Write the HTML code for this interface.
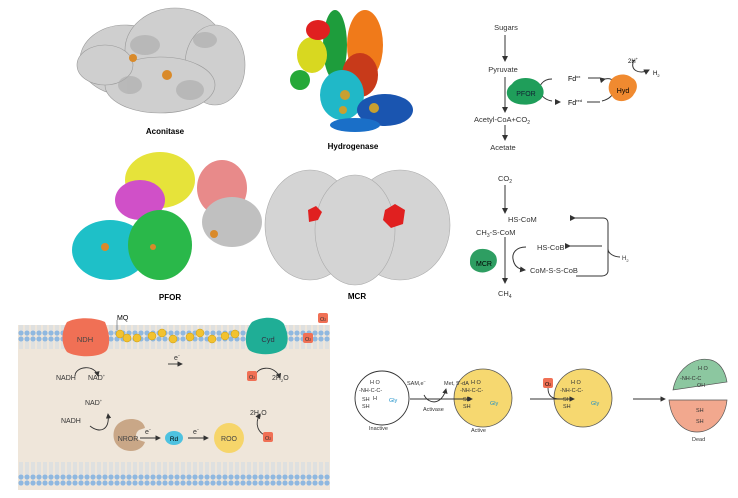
<!DOCTYPE html><html><head><style>body{margin:0;background:#fff}svg{display:block;font-family:"Liberation Sans",sans-serif}</style></head><body>
<svg width="738" height="498" viewBox="0 0 738 498">
<defs>
<marker id="a" markerWidth="6" markerHeight="6" refX="5" refY="3" orient="auto"><path d="M0,0L6,3L0,6z" fill="#333"/></marker>
<pattern id="lip" width="6" height="24" patternUnits="userSpaceOnUse"><circle cx="3" cy="3" r="2.6" fill="#8fb8e0"/><circle cx="3" cy="21" r="2.6" fill="#8fb8e0"/><line x1="2" y1="5" x2="2" y2="19" stroke="#c4d6ea" stroke-width="0.8"/><line x1="4" y1="5" x2="4" y2="19" stroke="#c4d6ea" stroke-width="0.8"/></pattern>
</defs>
<!-- Aconitase -->
<g fill="#cfcfcf" stroke="#999" stroke-width="0.6">
<ellipse cx="125" cy="60" rx="45" ry="35"/><ellipse cx="175" cy="50" rx="50" ry="42"/><ellipse cx="215" cy="65" rx="30" ry="40"/><ellipse cx="160" cy="85" rx="55" ry="28"/><ellipse cx="105" cy="65" rx="28" ry="20"/>
</g>
<g fill="#aaa" opacity=".6"><ellipse cx="145" cy="45" rx="15" ry="10"/><ellipse cx="190" cy="90" rx="14" ry="10"/><ellipse cx="205" cy="40" rx="12" ry="8"/><ellipse cx="130" cy="85" rx="12" ry="9"/></g>
<circle cx="133" cy="58" r="4" fill="#d98a2a"/><circle cx="167" cy="75" r="5" fill="#d98a2a"/>
<text x="165" y="134" font-size="8" font-weight="bold" text-anchor="middle">Aconitase</text>
<!-- Hydrogenase -->
<ellipse cx="335" cy="45" rx="12" ry="35" fill="#1e9d3c"/><ellipse cx="365" cy="45" rx="18" ry="35" fill="#f07a1a"/><ellipse cx="312" cy="55" rx="15" ry="18" fill="#d8d820"/><ellipse cx="318" cy="30" rx="12" ry="10" fill="#e02020"/><ellipse cx="360" cy="75" rx="18" ry="22" fill="#c83a1a"/><ellipse cx="342" cy="95" rx="22" ry="25" fill="#20b8c8"/><ellipse cx="300" cy="80" rx="10" ry="10" fill="#25a838"/><ellipse cx="385" cy="110" rx="28" ry="16" fill="#1a55b0"/><ellipse cx="355" cy="125" rx="25" ry="7" fill="#1a6fc8"/>
<circle cx="345" cy="95" r="5" fill="#c8a030"/><circle cx="374" cy="108" r="5" fill="#c8a030"/><circle cx="343" cy="110" r="4" fill="#c8a030"/>
<text x="353" y="149" font-size="8" font-weight="bold" text-anchor="middle">Hydrogenase</text>
<!-- PFOR -->
<ellipse cx="160" cy="180" rx="35" ry="28" fill="#e6e33a"/><ellipse cx="140" cy="200" rx="25" ry="20" fill="#d050c8"/><ellipse cx="222" cy="188" rx="25" ry="28" fill="#e88a8a"/><ellipse cx="232" cy="222" rx="30" ry="25" fill="#c0c0c0"/><ellipse cx="110" cy="250" rx="38" ry="30" fill="#1ec0c8"/><ellipse cx="160" cy="245" rx="32" ry="35" fill="#2ab84a"/>
<circle cx="105" cy="247" r="4" fill="#d98a2a"/><circle cx="153" cy="247" r="3" fill="#d98a2a"/><circle cx="214" cy="234" r="4" fill="#d98a2a"/>
<text x="170" y="300" font-size="8" font-weight="bold" text-anchor="middle">PFOR</text>
<!-- MCR -->
<g fill="#d4d4d4" stroke="#aaa" stroke-width="0.6"><ellipse cx="310" cy="225" rx="45" ry="55"/><ellipse cx="400" cy="225" rx="50" ry="55"/><ellipse cx="355" cy="230" rx="40" ry="55"/></g>
<path d="M308 210l8-4 6 6-4 8-9 2z" fill="#e02020"/><path d="M385 210l10-6 10 6-2 14-12 4-8-8z" fill="#e02020"/>
<text x="357" y="299" font-size="8" font-weight="bold" text-anchor="middle">MCR</text>
<!-- Pathway 1 -->
<g font-size="7.5" fill="#333" text-anchor="middle">
<text x="506" y="30">Sugars</text>
<text x="503" y="72">Pyruvate</text>
<text x="502" y="122">Acetyl-CoA+CO<tspan font-size="5" dy="2">2</tspan></text>
<text x="503" y="150">Acetate</text>
</g>
<g stroke="#333" stroke-width="1" fill="none">
<line x1="505" y1="35" x2="505" y2="61" marker-end="url(#a)"/>
<line x1="505" y1="77" x2="505" y2="112" marker-end="url(#a)"/>
<line x1="505" y1="125" x2="505" y2="140" marker-end="url(#a)"/>
<path d="M552 79c-10,0-14,8-12,13c2,5,6,8,12,9" />
<line x1="555" y1="102" x2="560" y2="102" marker-end="url(#a)"/>
<line x1="588" y1="78" x2="600" y2="78"/>
<path d="M605 79c8,-2 12,5 10,10c-2,6-5,10-13,12" marker-start="url(#a)"/>
<line x1="587" y1="102" x2="600" y2="102"/>
<path d="M634 60c-5,10 5,15 15,10" marker-end="url(#a)"/>
</g>
<path d="M512 84c5-8 22-8 28,0c6,6 4,14-2,17c-6,5-22,5-28-1c-5-5-4-12 2-16z" fill="#1f9e5a"/>
<text x="526" y="96" font-size="7" text-anchor="middle" fill="#123">PFOR</text>
<text x="568" y="81" font-size="7">Fd<tspan font-size="4" dy="-3">ox</tspan></text>
<text x="568" y="105" font-size="7">Fd<tspan font-size="4" dy="-3">red</tspan></text>
<path d="M610 82c3-8 16-10 22-4c5,2 7,10 2,16c-4,8-18,10-22,2c-4-4-4-10-2-14z" fill="#f08a30"/>
<text x="623" y="93" font-size="7" text-anchor="middle">Hyd</text>
<text x="628" y="63" font-size="6">2H<tspan font-size="4" dy="-3">+</tspan></text>
<text x="653" y="75" font-size="6">H<tspan font-size="4" dy="2">2</tspan></text>
<!-- Pathway 2 -->
<g font-size="7.5" fill="#333">
<text x="498" y="181">CO<tspan font-size="5" dy="2">2</tspan></text>
<text x="508" y="222">HS-CoM</text>
<text x="476" y="235">CH<tspan font-size="5" dy="2">3</tspan><tspan dy="-2">-S-CoM</tspan></text>
<text x="537" y="250">HS-CoB</text>
<text x="530" y="273">CoM-S-S-CoB</text>
<text x="622" y="260" font-size="6">H<tspan font-size="4" dy="2">2</tspan></text>
<text x="498" y="296">CH<tspan font-size="5" dy="2">4</tspan></text>
</g>
<g stroke="#333" stroke-width="1" fill="none">
<line x1="505" y1="185" x2="505" y2="213" marker-end="url(#a)"/>
<line x1="505" y1="237" x2="505" y2="283" marker-end="url(#a)"/>
<path d="M575 218h28c4,0 5,3 5,5v48c0,3-3,5-6,5h-26" marker-start="url(#a)"/>
<path d="M570 246h32" marker-start="url(#a)"/>
<path d="M620 257c-5,0-12-3-12-8"/>
<path d="M526 247c-10,0-14,6-13,12c1,6,4,10,12,11" marker-end="url(#a)"/>
</g>
<path d="M472 254c5-8 20-6 24,2c3,8-2,14-10,16c-8,2-16-3-16-9c0-4 0-6 2-9z" fill="#2e9e62"/>
<text x="484" y="266" font-size="7" text-anchor="middle">MCR</text>
<!-- bottom left panel -->
<rect x="18" y="325" width="312" height="165" fill="#efe6da"/>
<rect x="18" y="325" width="312" height="24" fill="url(#lip)"/>
<rect x="18" y="462" width="312" height="24" fill="url(#lip)"/>
<g fill="#f2c230" stroke="#c89a10" stroke-width="0.5">
<circle cx="120" cy="334" r="4"/><circle cx="127" cy="338" r="4"/><circle cx="137" cy="338" r="4"/><circle cx="152" cy="336" r="4"/><circle cx="162" cy="333" r="4"/><circle cx="173" cy="339" r="4"/><circle cx="190" cy="337" r="4"/><circle cx="200" cy="333" r="4"/><circle cx="212" cy="339" r="4"/><circle cx="225" cy="336" r="4"/><circle cx="235" cy="334" r="4"/>
</g>
<path d="M67 322c12-6 30-4 38,0c4,10 6,20 2,28c-6,8-30,8-40,2c-6-8-6-20 0-30z" fill="#f07055"/>
<text x="85" y="342" font-size="7.5" text-anchor="middle" fill="#444">NDH</text>
<path d="M252 322c10-6 26-6 32,2c3,8 6,16 1,24c-8,8-28,8-36,2c-5-6-4-20 3-28z" fill="#1fae96"/>
<text x="268" y="342" font-size="7.5" text-anchor="middle" fill="#334">Cyd</text>
<text x="117" y="320" font-size="7">MQ</text><line x1="117" y1="320" x2="117" y2="330" stroke="#555" stroke-width=".6"/>
<g stroke="#333" stroke-width="0.9" fill="none">
<path d="M75 376c0-10 20-12 23 0" marker-end="url(#a)"/>
<line x1="168" y1="364" x2="182" y2="364" marker-end="url(#a)"/>
<path d="M255 378c0-12 20-14 25 0" marker-end="url(#a)"/>
<path d="M90 426c10,8 20,4 18-12" marker-end="url(#a)"/>
<line x1="140" y1="438" x2="160" y2="438" marker-end="url(#a)"/>
<line x1="188" y1="438" x2="208" y2="438" marker-end="url(#a)"/>
<path d="M268 436c-10-2-14-12-8-22" marker-end="url(#a)"/>
</g>
<g font-size="7" fill="#333">
<text x="56" y="380">NADH</text><text x="88" y="380">NAD<tspan font-size="4" dy="-3">+</tspan></text>
<text x="174" y="360">e<tspan font-size="4" dy="-3">−</tspan></text>
<text x="272" y="380">2H<tspan font-size="4" dy="2">2</tspan><tspan dy="-2">O</tspan></text>
<text x="85" y="405">NAD<tspan font-size="4" dy="-3">+</tspan></text>
<text x="61" y="423">NADH</text>
<text x="145" y="434">e<tspan font-size="4" dy="-3">−</tspan></text>
<text x="193" y="434">e<tspan font-size="4" dy="-3">−</tspan></text>
<text x="250" y="415">2H<tspan font-size="4" dy="2">2</tspan><tspan dy="-2">O</tspan></text>
</g>
<g fill="#f07055"><rect x="318" y="313" width="10" height="10" rx="2"/><rect x="303" y="333" width="10" height="10" rx="2"/><rect x="247" y="371" width="10" height="10" rx="2"/><rect x="263" y="432" width="10" height="10" rx="2"/></g>
<g font-size="5.5" fill="#333"><text x="320" y="321">O<tspan font-size="3.5">2</tspan></text><text x="305" y="341">O<tspan font-size="3.5">2</tspan></text><text x="249" y="379">O<tspan font-size="3.5">2</tspan></text><text x="265" y="440">O<tspan font-size="3.5">2</tspan></text></g>
<path d="M115 428c6-12 28-12 30,0l-6,2c-4,3-4,8 0,10l6,2c-4,12-24,12-30,0c-2-4-2-10 0-14z" fill="#c9a787"/>
<text x="128" y="441" font-size="7" text-anchor="middle" fill="#444">NROR</text>
<ellipse cx="174" cy="438" rx="9" ry="7" fill="#4ec2e0"/><text x="174" y="441" font-size="6.5" text-anchor="middle">Rd</text>
<circle cx="229" cy="438" r="15" fill="#f6d56a"/><text x="229" y="441" font-size="7" text-anchor="middle" fill="#444">ROO</text>
<!-- bottom right -->
<g stroke="#333" stroke-width="0.9" fill="#fff"><circle cx="382" cy="398" r="27"/></g>
<circle cx="483" cy="398" r="29" fill="#f6d870" stroke="#555" stroke-width=".8"/>
<circle cx="583" cy="398" r="29" fill="#f6d870" stroke="#555" stroke-width=".8"/>
<path d="M673 390c4-22 22-34 38-30c8,2 14,10 16,22z" fill="#8cc7a0" stroke="#555" stroke-width=".7"/>
<path d="M669 400h58c-2,20-16,32-30,32c-14,0-26-12-28-32z" fill="#f2a88e" stroke="#555" stroke-width=".7"/>
<g stroke="#333" stroke-width="0.9" fill="none">
<line x1="410" y1="399" x2="472" y2="399" marker-end="url(#a)"/>
<path d="M424 395c5,10 18,10 22,-6" marker-end="url(#a)"/>
<line x1="530" y1="399" x2="574" y2="399" marker-end="url(#a)"/>
<path d="M548 388c0,8 4,11 12,11"/>
<line x1="633" y1="399" x2="665" y2="399" marker-end="url(#a)"/>
</g>
<rect x="543" y="378" width="10" height="10" rx="2" fill="#f07055"/><text x="545" y="386" font-size="5.5">O<tspan font-size="3.5">2</tspan></text>
<g font-size="5.5" fill="#333">
<text x="407" y="385">SAM,e<tspan font-size="4" dy="-2">−</tspan></text><text x="444" y="385">Met, 5′-dA</text><text x="423" y="411">Activase</text>
<text x="369" y="430">Inactive</text><text x="471" y="432">Active</text><text x="692" y="441">Dead</text>
</g>
<g font-size="5.5" fill="#333">
<text x="370" y="384">H O</text><text x="359" y="392">-NH-C-C-</text><text x="362" y="401">SH</text><text x="362" y="408">SH</text><text x="373" y="400">H</text><text x="389" y="402" fill="#1a8fc8">Gly</text>
<text x="471" y="384">H O</text><text x="460" y="392">-NH-C-C-</text><text x="463" y="401">SH</text><text x="463" y="408">SH</text><text x="490" y="405" fill="#1a8fc8">Gly</text>
<text x="571" y="384">H O</text><text x="560" y="392">-NH-C-C-</text><text x="563" y="401">SH</text><text x="563" y="408">SH</text><text x="591" y="405" fill="#1a8fc8">Gly</text>
<text x="698" y="370">H O</text><text x="680" y="380">-NH-C-C</text><text x="697" y="387">OH</text>
<text x="696" y="412">SH</text><text x="696" y="423">SH</text>
</g>
</svg>
</body></html>
